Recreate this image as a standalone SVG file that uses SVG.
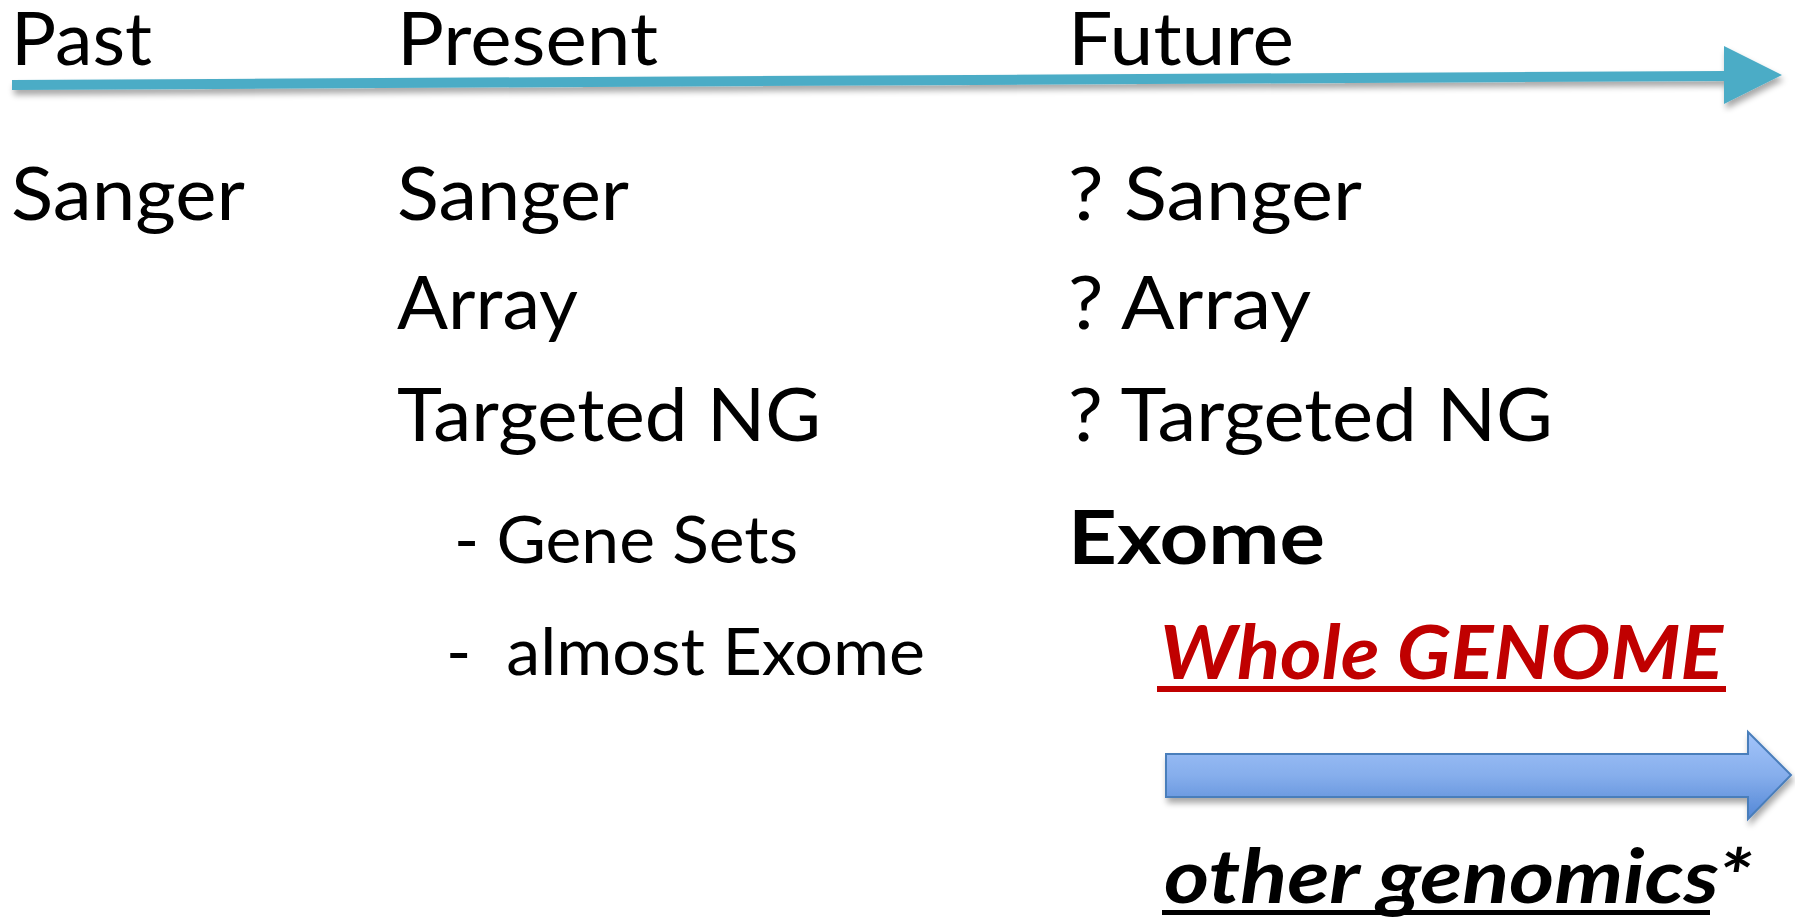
<svg xmlns="http://www.w3.org/2000/svg" width="1795" height="917" viewBox="0 0 1795 917">
<style>
.t{font-family:Lato,"Open Sans","Liberation Sans",sans-serif;font-size:74px;fill:#000;white-space:pre}
.s{font-size:66px}
.b{font-weight:bold}
.bi{font-weight:bold;font-style:italic}
</style>
<defs>
<filter id="sh" x="-5%" y="-50%" width="110%" height="300%">
<feGaussianBlur in="SourceAlpha" stdDeviation="3"/>
<feOffset dx="2" dy="5" result="o"/>
<feComponentTransfer><feFuncA type="linear" slope="0.35"/></feComponentTransfer>
<feMerge><feMergeNode/><feMergeNode in="SourceGraphic"/></feMerge>
</filter>
<linearGradient id="bg" x1="0" y1="0" x2="0" y2="1">
<stop offset="0" stop-color="#A3C4FA"/>
<stop offset="0.5" stop-color="#86AEEC"/>
<stop offset="1" stop-color="#5387D6"/>
</linearGradient>
</defs>
<rect width="1795" height="917" fill="#fff"/>
<g id="connectors">
<g id="timeline" filter="url(#sh)">
<polygon points="12,80 1724,71 1724,46 1782,75 1724,104 1724,81 12,90" fill="#4BACC6"/>
</g>
<g id="block-arrow">
<polygon points="1166,754 1748,754 1748,732 1791,775 1748,819 1748,797 1166,797" fill="url(#bg)" stroke="#4A7EBB" stroke-width="2" filter="url(#sh)"/>
</g>
</g>
<g id="past">
<text class="t" x="11" y="65" textLength="141" lengthAdjust="spacingAndGlyphs">Past</text>
<text class="t" x="11" y="220" textLength="234" lengthAdjust="spacingAndGlyphs">Sanger</text>
</g>
<g id="present">
<text class="t" x="397" y="65" textLength="261" lengthAdjust="spacingAndGlyphs">Present</text>
<text class="t" x="397" y="220" textLength="232" lengthAdjust="spacingAndGlyphs">Sanger</text>
<text class="t" x="397" y="329" textLength="181" lengthAdjust="spacingAndGlyphs">Array</text>
<text class="t" x="397" y="441" textLength="424" lengthAdjust="spacingAndGlyphs">Targeted NG</text>
<text class="t s" x="454" y="563" textLength="344" lengthAdjust="spacingAndGlyphs">- Gene Sets</text>
<text class="t s" x="446" y="675" textLength="479" lengthAdjust="spacingAndGlyphs" xml:space="preserve">-  almost Exome</text>
</g>
<g id="future">
<text class="t" x="1068" y="65" textLength="226" lengthAdjust="spacingAndGlyphs">Future</text>
<text class="t" x="1068" y="220" textLength="294" lengthAdjust="spacingAndGlyphs">? Sanger</text>
<text class="t" x="1068" y="329" textLength="243" lengthAdjust="spacingAndGlyphs">? Array</text>
<text class="t" x="1068" y="441" textLength="485" lengthAdjust="spacingAndGlyphs">? Targeted NG</text>
<text class="t b" x="1068" y="564" textLength="257" lengthAdjust="spacingAndGlyphs">Exome</text>
</g>
<g id="whole-genome">
<text class="t bi" x="1160" y="679" style="fill:#C00000" textLength="563" lengthAdjust="spacingAndGlyphs">Whole GENOME</text>
<rect x="1157" y="686" width="569" height="6" fill="#C00000"/>
</g>
<g id="other-genomics">
<text class="t bi" x="1164" y="903" textLength="588" lengthAdjust="spacingAndGlyphs">other genomics*</text>
<rect x="1162" y="910" width="548" height="5" fill="#000"/>
</g>
</svg>
